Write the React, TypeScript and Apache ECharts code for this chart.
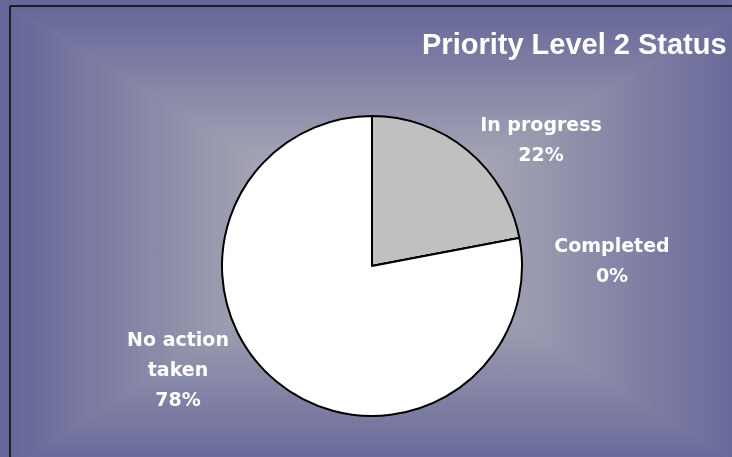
import React, { useEffect, useRef } from "react";
import * as echarts from "echarts";

const titleText = "Priority Level 2 Status";
const categories = ["In progress", "Completed", "No action taken"];
const values = [22, 0, 78];
const labelNames = ["In progress", "Completed", "No action\ntaken"];
const sliceColors = ["#C0C0C0", "#9999FF", "#FFFFFF"];

// layout constants
const labelPos: [number, number][] = [
  [541, 139],
  [612, 260],
  [178, 369],
];
const BG = { x0: 10, y0: 6, x1: 748, y1: 470 };
const GC = { x: 372, y: 231 };
const EDGE = "#666699";
const CENTER = "#C0C0C0";

export default function App() {
  const ref = useRef<HTMLDivElement>(null);
  useEffect(() => {
    document.body.style.margin = "0";
    document.body.style.overflow = "hidden";
    document.body.style.background = EDGE;
    if (!ref.current) return;
    const chart = echarts.init(ref.current, null, { renderer: "svg" });
    const cx = GC.x;
    const cy = GC.y;
    const grad = (x: number, y: number, x2: number, y2: number) => ({
      type: "linear",
      x,
      y,
      x2,
      y2,
      colorStops: [
        { offset: 0, color: EDGE },
        { offset: 1, color: CENTER },
      ],
    });
    chart.setOption({
      animation: false,
      graphic: [
        {
          type: "rect",
          z: -10,
          shape: { x: BG.x0, y: BG.y0, width: BG.x1 - BG.x0, height: BG.y1 - BG.y0 },
          style: { fill: "#8a8aae" },
        },
        {
          type: "polygon",
          z: -9,
          shape: { points: [[BG.x0, BG.y0], [BG.x1, BG.y0], [cx, cy]] },
          style: { fill: grad(0, 0, 0, 1) },
        },
        {
          type: "polygon",
          z: -9,
          shape: { points: [[BG.x0, BG.y1], [BG.x1, BG.y1], [cx, cy]] },
          style: { fill: grad(0, 1, 0, 0) },
        },
        {
          type: "polygon",
          z: -9,
          shape: { points: [[BG.x0, BG.y0], [BG.x0, BG.y1], [cx, cy]] },
          style: { fill: grad(0, 0, 1, 0) },
        },
        {
          type: "polygon",
          z: -9,
          shape: { points: [[BG.x1, BG.y0], [BG.x1, BG.y1], [cx, cy]] },
          style: { fill: grad(1, 0, 0, 0) },
        },
        {
          type: "line",
          z: -5,
          shape: { x1: BG.x0, y1: BG.y0, x2: 760, y2: BG.y0 },
          style: { stroke: "#1e1e1e", lineWidth: 2 },
        },
        {
          type: "line",
          z: -5,
          shape: { x1: BG.x0, y1: BG.y0, x2: BG.x0, y2: 480 },
          style: { stroke: "#1e1e1e", lineWidth: 2 },
        },
        {
          type: "text",
          z: 10,
          style: {
            x: 422,
            y: 44,
            text: titleText,
            fill: "#FFFFFF",
            font: 'bold 29px "Liberation Sans", Arial, sans-serif',
            verticalAlign: "middle",
            align: "left",
          },
        },
      ],
      series: [
        {
          type: "pie",
          center: [372, 266],
          radius: 150,
          startAngle: 90,
          clockwise: true,
          avoidLabelOverlap: false,
          itemStyle: { borderColor: "#000000", borderWidth: 2 },
          emphasis: { disabled: true },
          label: {
            show: true,
            position: "outside",
            color: "#FFFFFF",
            fontFamily: '"DejaVu Sans", sans-serif',
            fontWeight: "bold",
            fontSize: 19,
            lineHeight: 30,
            align: "center",
            formatter: (p: any) =>
              labelNames[p.dataIndex] + "\n" + Math.round(p.percent) + "%",
          },
          labelLine: { show: false },
          labelLayout: (p: any) => ({
            x: labelPos[p.dataIndex][0],
            y: labelPos[p.dataIndex][1],
            align: "center",
            verticalAlign: "middle",
          }),
          data: categories.map((c, i) => ({
            name: c,
            value: values[i],
            itemStyle: { color: sliceColors[i] },
          })),
        },
      ],
    });
    return () => chart.dispose();
  }, []);
  return (
    <div
      ref={ref}
      style={{ position: "fixed", left: 0, top: 0, width: 740, height: 465 }}
    />
  );
}
